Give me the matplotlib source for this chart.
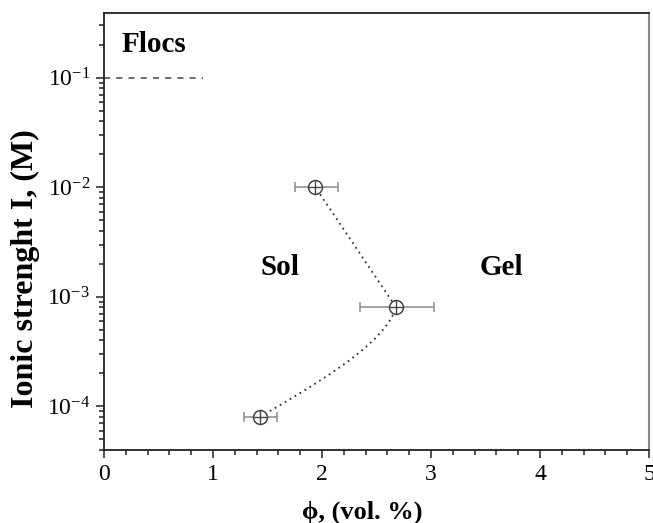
import numpy as np
import matplotlib
matplotlib.use('Agg')
import matplotlib.pyplot as plt
from matplotlib.ticker import LogLocator, MultipleLocator, NullFormatter

# данные
phi = [1.43, 2.68, 1.94]
phi_err_lo = [0.15, 0.33, 0.19]
phi_err_hi = [0.16, 0.35, 0.21]
ionic = [8e-5, 8e-4, 1e-2]

flocs_phi = [0.0, 0.91]
flocs_I = [0.1, 0.1]

plt.rcParams['font.family'] = ['Liberation Serif', 'DejaVu Serif']
plt.rcParams['mathtext.fontset'] = 'stix'

fig = plt.figure(figsize=(6.53, 5.23), dpi=100)
ax = fig.add_axes([104 / 653, 1 - 450 / 523, 545 / 653, 437 / 523])

# соединительная линия: натуральный сплайн x(log I) на нижнем участке,
# прямая на верхнем
s = np.log10(ionic)
x = np.array(phi)
h0, h1 = s[1] - s[0], s[2] - s[1]
m1 = 6 * ((x[2] - x[1]) / h1 - (x[1] - x[0]) / h0) / (2 * (h0 + h1))
u = np.linspace(0, 1, 60)
x_low = (1 - u) * x[0] + u * x[1] + h0 ** 2 / 6 * (u ** 3 - u) * m1
s_low = s[0] + u * h0
line_x = np.concatenate([x_low, [x[2]]])
line_y = 10 ** np.concatenate([s_low, [s[2]]])
ax.plot(line_x, line_y, ls=(0, (1, 2.2)), color='#333333', lw=1.3, zorder=2)

ax.errorbar(phi, ionic, xerr=[phi_err_lo, phi_err_hi], fmt='none',
            ecolor='#8a8a8a', elinewidth=1.1, capsize=3.5, capthick=1.1, zorder=3)
ax.plot(phi, ionic, 'o', ms=10, mfc='white', mec='#444444', mew=1.1, zorder=4)
ax.plot(phi, ionic, '+', ms=10, mec='#444444', mew=1.0, zorder=5)

ax.plot(flocs_phi, flocs_I, ls=(0, (4, 4)), color='#444444', lw=1.1)

ax.set_yscale('log')
ax.set_xlim(0, 5)
ax.set_ylim(4e-5, 0.39)
ax.xaxis.set_major_locator(MultipleLocator(1))
ax.xaxis.set_minor_locator(MultipleLocator(0.2))
ax.yaxis.set_major_locator(LogLocator(base=10, numticks=10))
ax.yaxis.set_minor_locator(LogLocator(base=10, subs=np.arange(2, 10), numticks=10))
ax.yaxis.set_minor_formatter(NullFormatter())

ax.tick_params(which='both', direction='out', top=False, right=False,
               labelsize=17, width=1.2, color='#333333')
ax.tick_params(which='major', length=6, pad=4)
ax.tick_params(which='minor', length=3.5)

for side in ['left', 'bottom', 'top']:
    ax.spines[side].set_color('#222222')
    ax.spines[side].set_linewidth(1.3)
ax.spines['right'].set_color('#888888')
ax.spines['right'].set_linewidth(1.5)

# подписи осей (положение как на оригинале)
ax.text(0.473, -0.142, 'ϕ, (vol. %)', transform=ax.transAxes, fontsize=19,
        fontweight='bold', ha='center', va='center')
ax.text(-0.145, 0.416, 'Ionic strenght I, (M)', transform=ax.transAxes,
        fontsize=23, fontweight='bold', ha='center', va='center', rotation=90)

ax.text(0.16, 0.2, 'Flocs', fontsize=21, fontweight='bold', va='center', ha='left')
ax.text(1.61, 1.85e-3, 'Sol', fontsize=21, fontweight='bold', va='center', ha='center')
ax.text(3.65, 1.85e-3, 'Gel', fontsize=21, fontweight='bold', va='center', ha='center')

fig.savefig('out.png', dpi=100)
